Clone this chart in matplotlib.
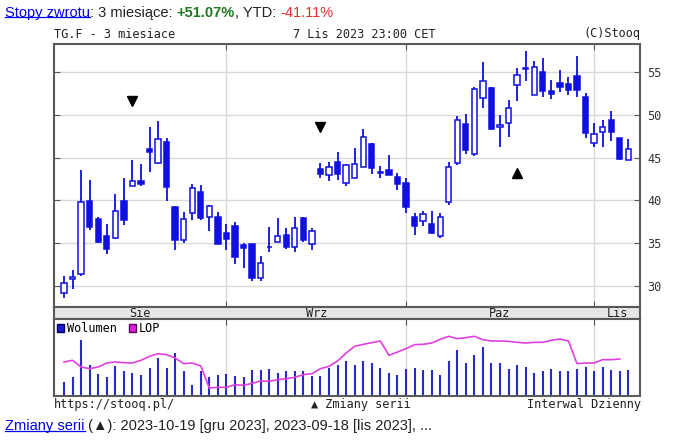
import numpy as np
import pandas as pd
import matplotlib
matplotlib.use('Agg')
from matplotlib import pyplot as plt
from matplotlib.patches import Patch
from matplotlib.lines import Line2D

# sesje TG.F, 3 miesiace
dates = pd.bdate_range('2023-08-07', '2023-11-07')
month_names = ['Sie', 'Wrz', 'Paz', 'Lis']

opens = [29.18, 30.74, 31.33, 39.96, 37.77, 35.78, 35.63, 39.96, 41.68, 42.27,
         46.02, 44.34, 46.88, 39.18, 35.35, 38.48, 40.98, 38.02, 38.06, 36.20,
         37.00, 34.80, 34.84, 30.94, 34.55, 35.08, 35.94, 34.57, 37.89, 34.84,
         43.63, 42.97, 44.45, 42.06, 42.65, 43.94, 46.61, 43.35, 43.51, 42.73,
         42.06, 38.02, 37.55, 37.27, 35.85, 39.84, 44.40, 48.90, 45.47, 51.98,
         53.16, 48.53, 49.00, 53.55, 55.40, 52.37, 55.00, 52.76, 53.70, 53.63,
         54.61, 52.06, 46.76, 48.06, 49.39, 47.35, 44.73]
highs = [31.17, 31.80, 43.55, 42.38, 38.00, 37.23, 40.70, 42.66, 44.73, 44.22,
         48.63, 49.30, 47.27, 39.30, 38.67, 41.91, 41.80, 39.47, 38.65, 37.20,
         37.50, 35.00, 34.90, 33.48, 36.84, 37.89, 36.72, 38.00, 38.00, 36.72,
         44.34, 44.53, 45.63, 44.22, 46.18, 48.33, 46.76, 44.02, 45.27, 43.24,
         42.65, 38.53, 38.73, 38.80, 38.50, 44.53, 49.85, 50.05, 53.31, 56.18,
         53.31, 49.98, 51.75, 55.51, 57.45, 56.29, 56.69, 54.10, 55.27, 54.41,
         56.84, 52.53, 49.04, 49.39, 50.49, 47.35, 47.16]
lows = [28.63, 29.57, 31.17, 36.52, 35.04, 33.67, 35.47, 37.11, 41.68, 41.68,
        43.36, 44.22, 39.96, 34.18, 35.04, 37.70, 37.70, 36.37, 34.90, 34.20,
        32.50, 32.05, 30.59, 30.59, 33.98, 35.08, 34.26, 33.98, 35.08, 34.18,
        42.66, 42.30, 42.38, 41.67, 42.65, 43.94, 43.04, 42.65, 42.96, 41.27,
        38.53, 35.90, 36.96, 36.06, 35.65, 39.45, 44.14, 45.40, 45.20, 50.80,
        48.22, 46.25, 47.43, 51.59, 53.92, 52.37, 52.14, 51.86, 52.65, 52.37,
        52.06, 47.27, 46.25, 46.25, 46.96, 44.70, 44.73]
closes = [30.35, 31.05, 39.77, 36.91, 35.16, 34.34, 38.75, 37.70, 42.27, 41.95,
          45.63, 47.15, 41.52, 35.35, 37.77, 41.48, 37.89, 39.35, 34.92, 35.50,
          33.40, 34.37, 30.94, 32.70, 34.60, 35.82, 34.57, 36.72, 35.35, 36.45,
          43.09, 43.87, 43.05, 44.14, 44.29, 47.47, 43.82, 43.16, 42.96, 41.86,
          39.24, 36.96, 38.41, 36.18, 38.10, 43.87, 49.37, 45.95, 53.04, 53.94,
          48.41, 48.84, 50.80, 54.69, 55.50, 55.59, 52.76, 52.45, 53.24, 52.96,
          52.96, 47.94, 47.75, 48.53, 48.06, 44.80, 46.06]
volume = [40, 55, 165, 92, 63, 55, 88, 72, 68, 62,
          82, 112, 82, 128, 72, 30, 72, 55, 62, 63,
          58, 55, 75, 75, 78, 67, 72, 72, 72, 58,
          58, 82, 92, 102, 92, 102, 96, 82, 68, 62,
          78, 82, 75, 75, 62, 102, 135, 96, 122, 145,
          96, 98, 78, 92, 85, 66, 72, 78, 72, 72,
          78, 85, 72, 85, 75, 72, 75]
lop = [100, 105, 85, 80, 85, 97, 100, 98, 97, 105,
       117, 125, 122, 112, 95, 97, 88, 22, 24, 24,
       32, 30, 36, 43, 42, 47, 50, 54, 62, 65,
       80, 87, 103, 127, 147, 153, 158, 163, 120, 130,
       140, 152, 153, 157, 168, 177, 170, 173, 177, 167,
       163, 163, 162, 159, 157, 159, 159, 165, 169, 163,
       95, 97, 97, 107, 107, 109, np.nan]

# zmiany serii (rolowanie kontraktu)
roll_idx = [8, 30, 53]
roll_marker = ['v', 'v', '^']
roll_level = [51.6, 48.6, 43.2]

price_ticks = [30, 35, 40, 45, 50, 55]

opens = np.array(opens); closes = np.array(closes)
x = np.arange(len(dates))
up = closes >= opens
body_lo = np.minimum(opens, closes)
body_h = np.maximum(np.abs(closes - opens), 0.04)

blue = '#1010e0'
frame = '#5a5a5a'
gridc = '#d9d9d9'
mono = 'DejaVu Sans Mono'
fs = 8.6

W, H = 677, 440
fig = plt.figure(figsize=(W / 100, H / 100), dpi=100)

def box(l, t, r, b):
    return [l / W, 1 - b / H, (r - l) / W, (b - t) / H]

ax = fig.add_axes(box(54, 44, 640, 306.5))
band = fig.add_axes(box(54, 306.5, 640, 319))
axv = fig.add_axes(box(54, 319, 640, 396))

xlim = (-1.17, 67.37)
bounds = [i for i in range(1, len(dates)) if dates[i].month != dates[i - 1].month]

# panel cen
ax.vlines(x, lows, highs, color=blue, lw=1.3, zorder=2)
ax.bar(x[up], body_h[up], bottom=body_lo[up], width=0.62, facecolor='white',
       edgecolor=blue, lw=1.1, zorder=3)
ax.bar(x[~up], body_h[~up], bottom=body_lo[~up], width=0.62, facecolor=blue,
       edgecolor=blue, lw=1.1, zorder=3)
for i, m, lv in zip(roll_idx, roll_marker, roll_level):
    ax.plot(x[i], lv, marker=m, color='black', ms=6.5, ls='none', zorder=4)

ax.set_xlim(xlim)
ax.set_ylim(27.58, 58.3)
ax.set_yticks(price_ticks)
ax.set_xticks(bounds)
ax.yaxis.tick_right()
ax.tick_params(axis='y', direction='in', length=4, color=frame, left=True, right=True,
               labelleft=False, labelright=True, labelsize=fs, labelcolor='#333333', pad=5)
ax.tick_params(axis='x', direction='in', length=4, color=frame, top=True, bottom=True,
               labelbottom=False)
for lab in ax.get_yticklabels():
    lab.set_family(mono)
ax.grid(True, color=gridc, lw=1, zorder=0)
ax.set_axisbelow(True)
for s in ax.spines.values():
    s.set_color(frame); s.set_linewidth(1.5)

# pasek miesiecy
band.set_facecolor('#e6e6e6')
band.set_xlim(xlim)
band.set_ylim(0, 1)
band.set_xticks([]); band.set_yticks([])
for s in band.spines.values():
    s.set_color(frame); s.set_linewidth(1.5)
edges = [xlim[0]] + bounds + [xlim[1]]
for k, name in enumerate(month_names):
    band.text((edges[k] + edges[k + 1]) / 2, 0.45, name, ha='center', va='center',
              family=mono, fontsize=fs, color='#222222')

# wolumen i LOP
axv.vlines(x, 0, volume, color='#2a2ac8', lw=1.5, zorder=2)
axv.plot(x, lop, color='#e040e0', lw=1.2, zorder=3)
axv.set_xlim(xlim)
axv.set_ylim(-2, 229)
axv.set_yticks([])
axv.set_xticks(bounds)
axv.tick_params(axis='x', direction='in', length=4, color=frame, top=True, bottom=False,
                labelbottom=False)
axv.grid(True, axis='x', color=gridc, lw=1, zorder=0)
for s in axv.spines.values():
    s.set_color(frame); s.set_linewidth(1.5)
handles = [Patch(facecolor='#1a1ad0', edgecolor='#000060', label='Wolumen'),
           Patch(facecolor='#e020e0', edgecolor='#600060', label='LOP')]
axv.legend(handles=handles, loc='upper left', ncol=2, frameon=False,
           handlelength=0.55, handleheight=0.6, handletextpad=0.3, columnspacing=1.0,
           borderaxespad=0.15, borderpad=0.1,
           prop={'family': mono, 'size': fs})

# napisy
fig.text(54 / W, 1 - 34 / H, 'TG.F - 3 miesiace', family=mono, fontsize=fs,
         va='center', ha='left', color='#222222')
fig.text(364 / W, 1 - 34 / H, '7 Lis 2023 23:00 CET', family=mono, fontsize=fs,
         va='center', ha='center', color='#222222')
fig.text(641 / W, 1 - 34 / H, '(C)Stooq', family=mono, fontsize=fs,
         va='center', ha='right', color='#222222')
fig.text(54 / W, 1 - 404 / H, 'https://stooq.pl/', family=mono, fontsize=fs,
         va='center', ha='left', color='#222222')
fig.text(361 / W, 1 - 404 / H, '▲ Zmiany serii', family=mono, fontsize=fs,
         va='center', ha='center', color='#222222')
fig.text(641 / W, 1 - 404 / H, 'Interwal Dzienny', family=mono, fontsize=fs,
         va='center', ha='right', color='#222222')

sans = 'Liberation Sans'
tfs = 10.5

def chain(y, parts):
    first = None
    prev = None
    for txt, kw in parts:
        if prev is None:
            prev = fig.text(5 / W, 1 - y / H, txt, family=sans, fontsize=tfs,
                            va='bottom', ha='left', **kw)
            first = prev
        else:
            prev = ax.annotate(txt, xy=(1, 0), xycoords=prev, va='bottom', ha='left',
                               family=sans, fontsize=tfs, annotation_clip=False, **kw)
    return first

link1 = chain(20, [('Stopy zwrotu', {'color': '#0000ee'}),
                   (': 3 miesiące: ', {'color': '#222222'}),
                   ('+51.07%', {'color': '#1f7a1f', 'weight': 'bold'}),
                   (', YTD: ', {'color': '#222222'}),
                   ('-41.11%', {'color': '#e03030'})])
link2 = chain(433, [('Zmiany serii', {'color': '#0000ee'}),
                    (' (▲): 2023-10-19 [gru 2023], 2023-09-18 [lis 2023], ...',
                     {'color': '#222222'})])

fig.canvas.draw()
r = fig.canvas.get_renderer()
for t in (link1, link2):
    bb = t.get_window_extent(r)
    yline = (bb.y0 + 2.5) / H
    fig.add_artist(Line2D([bb.x0 / W, bb.x1 / W], [yline, yline],
                          transform=fig.transFigure, color='#0000ee', lw=0.9))

fig.savefig('out.png', dpi=100)
